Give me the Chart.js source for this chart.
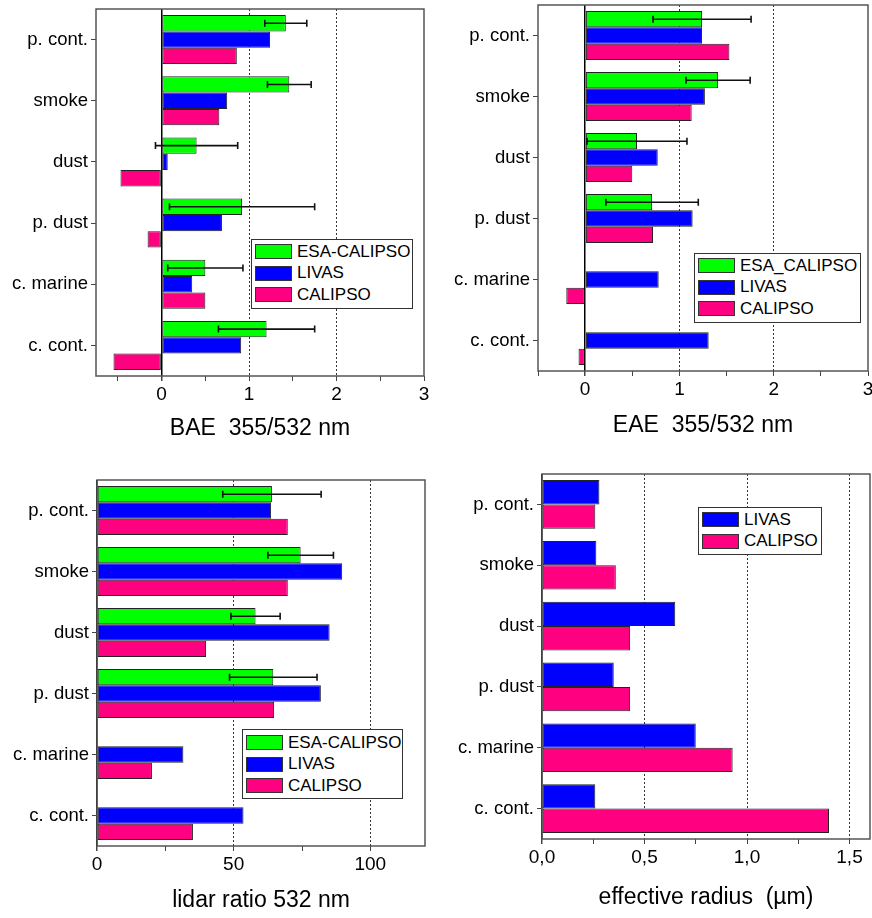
<!DOCTYPE html>
<html>
<head>
<meta charset="utf-8">
<title>Aerosol types: LIVAS vs CALIPSO</title>
<script src="https://cdn.jsdelivr.net/npm/chart.js@4.4.1/dist/chart.umd.min.js"></script>
<style>
  html,body{margin:0;padding:0;background:#fff;}
  body{width:872px;height:918px;position:relative;overflow:hidden;font-family:"Liberation Sans",Arial,sans-serif;}
  .panel{position:absolute;width:436px;height:459px;}
  .panel canvas{position:absolute;left:0;top:0;}
  .legend{position:absolute;border:1px solid #333;background:#fff;box-sizing:border-box;font-size:17px;color:#000;white-space:nowrap;}
  .legend .row{display:flex;align-items:center;height:21.6px;}
  .legend .sw{flex:none;width:35px;height:13px;border:1px solid #333;margin-left:3px;margin-right:5px;}
</style>
</head>
<body>
<div class="panel" id="p_bae" style="left:0;top:0"><canvas id="c_bae" width="436" height="459"></canvas></div>
<div class="panel" id="p_eae" style="left:436px;top:0"><canvas id="c_eae" width="436" height="459"></canvas></div>
<div class="panel" id="p_lr" style="left:0;top:459px"><canvas id="c_lr" width="436" height="459"></canvas></div>
<div class="panel" id="p_reff" style="left:436px;top:459px"><canvas id="c_reff" width="436" height="459"></canvas></div>

<script>
const types = ['p. cont.', 'smoke', 'dust', 'p. dust', 'c. marine', 'c. cont.'];

// backscatter Angstrom exponent 355/532
const baeEsa     = [1.42, 1.46, 0.40, 0.92, 0.50, 1.20];
const baeEsaErr  = [0.24, 0.25, 0.47, 0.83, 0.43, 0.55];
const baeLivas   = [1.24, 0.75, 0.07, 0.69, 0.35, 0.91];
const baeCalipso = [0.86, 0.66, -0.47, -0.16, 0.50, -0.55];

// extinction Angstrom exponent 355/532
const eaeEsa     = [1.24, 1.41, 0.55, 0.71, null, null];
const eaeEsaErr  = [0.52, 0.34, 0.53, 0.49, null, null];
const eaeLivas   = [1.24, 1.27, 0.77, 1.14, 0.78, 1.31];
const eaeCalipso = [1.53, 1.13, 0.50, 0.72, -0.20, -0.07];

// lidar ratio 532 nm (sr)
const lrEsa      = [64, 74.5, 58, 64.5, null, null];
const lrEsaErr   = [18, 12, 9, 16, null, null];
const lrLivas    = [63.7, 89.7, 85.1, 81.9, 31.6, 53.6];
const lrCalipso  = [69.8, 69.8, 39.9, 64.8, 20.1, 35.1];

// effective radius (um)
const reffLivas   = [0.28, 0.265, 0.65, 0.35, 0.75, 0.26];
const reffCalipso = [0.26, 0.36, 0.43, 0.43, 0.93, 1.40];

// x tick positions (labels only on the major steps)
const baeTicks  = [-0.5, 0, 0.5, 1, 1.5, 2, 2.5, 3];
const eaeTicks  = [-0.5, 0, 0.5, 1, 1.5, 2, 2.5, 3];
const lrTicks   = [0, 25, 50, 75, 100];
const reffTicks = [0, 0.25, 0.5, 0.75, 1, 1.25, 1.5];

const GREEN = '#00ff00', BLUE = '#0000ff', PINK = '#ff0080';

Chart.defaults.font.family = '"Liberation Sans", Arial, sans-serif';
Chart.defaults.color = '#000';

const isMajor = (v, step) => Math.abs(v / step - Math.round(v / step)) < 1e-9;

// error bars on the first dataset
const errorBars = {
  id: 'errorBars',
  afterDatasetsDraw(chart, args, opts) {
    if (!opts.errors) return;
    const ctx = chart.ctx, xs = chart.scales.x;
    const vals = chart.data.datasets[0].data;
    ctx.save();
    ctx.strokeStyle = '#111';
    ctx.lineWidth = 1.6;
    chart.getDatasetMeta(0).data.forEach((bar, i) => {
      const e = opts.errors[i];
      if (e == null || vals[i] == null) return;
      const x1 = xs.getPixelForValue(vals[i] - e), x2 = xs.getPixelForValue(vals[i] + e), y = bar.y;
      ctx.beginPath();
      ctx.moveTo(x1, y); ctx.lineTo(x2, y);
      ctx.moveTo(x1, y - 3.5); ctx.lineTo(x1, y + 3.5);
      ctx.moveTo(x2, y - 3.5); ctx.lineTo(x2, y + 3.5);
      ctx.stroke();
    });
    ctx.restore();
  }
};

// plot frame
const frame = {
  id: 'frame',
  afterDraw(chart) {
    const {ctx, chartArea: a} = chart;
    ctx.save();
    ctx.strokeStyle = '#555';
    ctx.lineWidth = 1.5;
    ctx.strokeRect(a.left, a.top, a.right - a.left, a.bottom - a.top);
    ctx.restore();
  }
};

function makeChart(id, p) {
  const datasets = p.series.map(s => ({
    label: s.label, data: s.data, backgroundColor: s.color,
    borderColor: '#222', borderWidth: 1, borderSkipped: false
  }));
  return new Chart(document.getElementById(id), {
    type: 'bar',
    data: { labels: types, datasets },
    plugins: [errorBars, frame],
    options: {
      responsive: false,
      animation: false,
      indexAxis: 'y',
      categoryPercentage: 0.8,
      barPercentage: 1,
      layout: { padding: { top: p.pad[0], right: p.pad[1], bottom: 0, left: 0 } },
      plugins: {
        legend: { display: false },
        tooltip: { enabled: false },
        errorBars: { errors: p.errors }
      },
      scales: {
        x: {
          min: p.min, max: p.max,
          afterBuildTicks: s => { s.ticks = p.ticks.map(v => ({ value: v })); },
          afterFit: s => {
            s.height = p.bottomH;
            s.paddingLeft = 0; s.paddingRight = 0;
          },
          ticks: {
            autoSkip: false, maxRotation: 0, padding: 2,
            font: { size: 19 }, color: '#000',
            callback: v => isMajor(v, p.major) ? p.fmt(v) : ''
          },
          grid: {
            tickLength: 5, tickColor: '#444',
            color: c => {
              const v = c.tick ? c.tick.value : null;
              if (v === 0) return '#000';
              if (v != null && isMajor(v, p.major) && v < p.max) return '#333';
              return 'rgba(0,0,0,0)';
            },
            lineWidth: c => (c.tick && c.tick.value === 0) ? 1.5 : 1
          },
          border: {
            display: false,
            dash: c => (c.tick && c.tick.value !== 0) ? [2, 2] : []
          },
          title: {
            display: true, text: p.title, color: '#000',
            font: { size: 23 }, padding: { top: 0, bottom: p.titlePad }
          }
        },
        y: {
          afterFit: s => {
            s.width = p.leftW;
            s.paddingTop = 0; s.paddingBottom = 0;
          },
          ticks: { font: { size: 18.5 }, color: '#000', padding: 3 },
          grid: { drawOnChartArea: false, offset: false, tickLength: 5, tickColor: '#444' },
          border: { display: false }
        },
        // minor ticks between the categories
        yMinor: {
          type: 'category', axis: 'y', position: 'left',
          afterFit: s => {
            s.width = 0;
            s.paddingTop = 0; s.paddingBottom = 0;
          },
          ticks: { display: false },
          grid: { drawOnChartArea: false, offset: true, tickLength: 3, tickColor: '#444' },
          border: { display: false }
        }
      }
    }
  });
}

function addLegend(panelId, chart, box) {
  const el = document.createElement('div');
  el.className = 'legend';
  Object.assign(el.style, {
    left: box.left + 'px', top: box.top + 'px',
    width: box.width + 'px', height: box.height + 'px', paddingTop: box.padTop + 'px'
  });
  chart.data.datasets.forEach(ds => {
    const row = document.createElement('div');
    row.className = 'row';
    const sw = document.createElement('div');
    sw.className = 'sw';
    sw.style.background = ds.backgroundColor;
    const txt = document.createElement('span');
    txt.textContent = ds.label;
    row.appendChild(sw);
    row.appendChild(txt);
    el.appendChild(row);
  });
  document.getElementById(panelId).appendChild(el);
}

const dec = v => String(v);
const comma = v => v.toFixed(1).replace('.', ',');

const bae = makeChart('c_bae', {
  series: [
    { label: 'ESA-CALIPSO', data: baeEsa, color: GREEN },
    { label: 'LIVAS', data: baeLivas, color: BLUE },
    { label: 'CALIPSO', data: baeCalipso, color: PINK }
  ],
  errors: baeEsaErr, min: -0.75, max: 3, ticks: baeTicks, major: 1, fmt: dec,
  title: 'BAE  355/532 nm', pad: [9, 12], leftW: 96, bottomH: 83, titlePad: 17
});
addLegend('p_bae', bae, { left: 251, top: 239, width: 162, height: 70, padTop: 1 });

const eae = makeChart('c_eae', {
  series: [
    { label: 'ESA_CALIPSO', data: eaeEsa, color: GREEN },
    { label: 'LIVAS', data: eaeLivas, color: BLUE },
    { label: 'CALIPSO', data: eaeCalipso, color: PINK }
  ],
  errors: eaeEsaErr, min: -0.5, max: 3, ticks: eaeTicks, major: 1, fmt: dec,
  title: 'EAE  355/532 nm', pad: [5, 4], leftW: 102, bottomH: 88, titlePad: 20
});
addLegend('p_eae', eae, { left: 258, top: 253, width: 167, height: 70, padTop: 1 });

const lr = makeChart('c_lr', {
  series: [
    { label: 'ESA-CALIPSO', data: lrEsa, color: GREEN },
    { label: 'LIVAS', data: lrLivas, color: BLUE },
    { label: 'CALIPSO', data: lrCalipso, color: PINK }
  ],
  errors: lrEsaErr, min: 0, max: 120, ticks: lrTicks, major: 50, fmt: dec,
  title: 'lidar ratio 532 nm', pad: [21, 11], leftW: 97, bottomH: 72, titlePad: 4
});
addLegend('p_lr', lr, { left: 242, top: 270, width: 161, height: 70, padTop: 2 });

const reff = makeChart('c_reff', {
  series: [
    { label: 'LIVAS', data: reffLivas, color: BLUE },
    { label: 'CALIPSO', data: reffCalipso, color: PINK }
  ],
  errors: null, min: 0, max: 1.6, ticks: reffTicks, major: 0.5, fmt: comma,
  title: 'effective radius  (\u00b5m)', pad: [15, 2], leftW: 106, bottomH: 79, titlePad: 7
});
addLegend('p_reff', reff, { left: 262, top: 48, width: 124, height: 48, padTop: 1 });
</script>
</body>
</html>
